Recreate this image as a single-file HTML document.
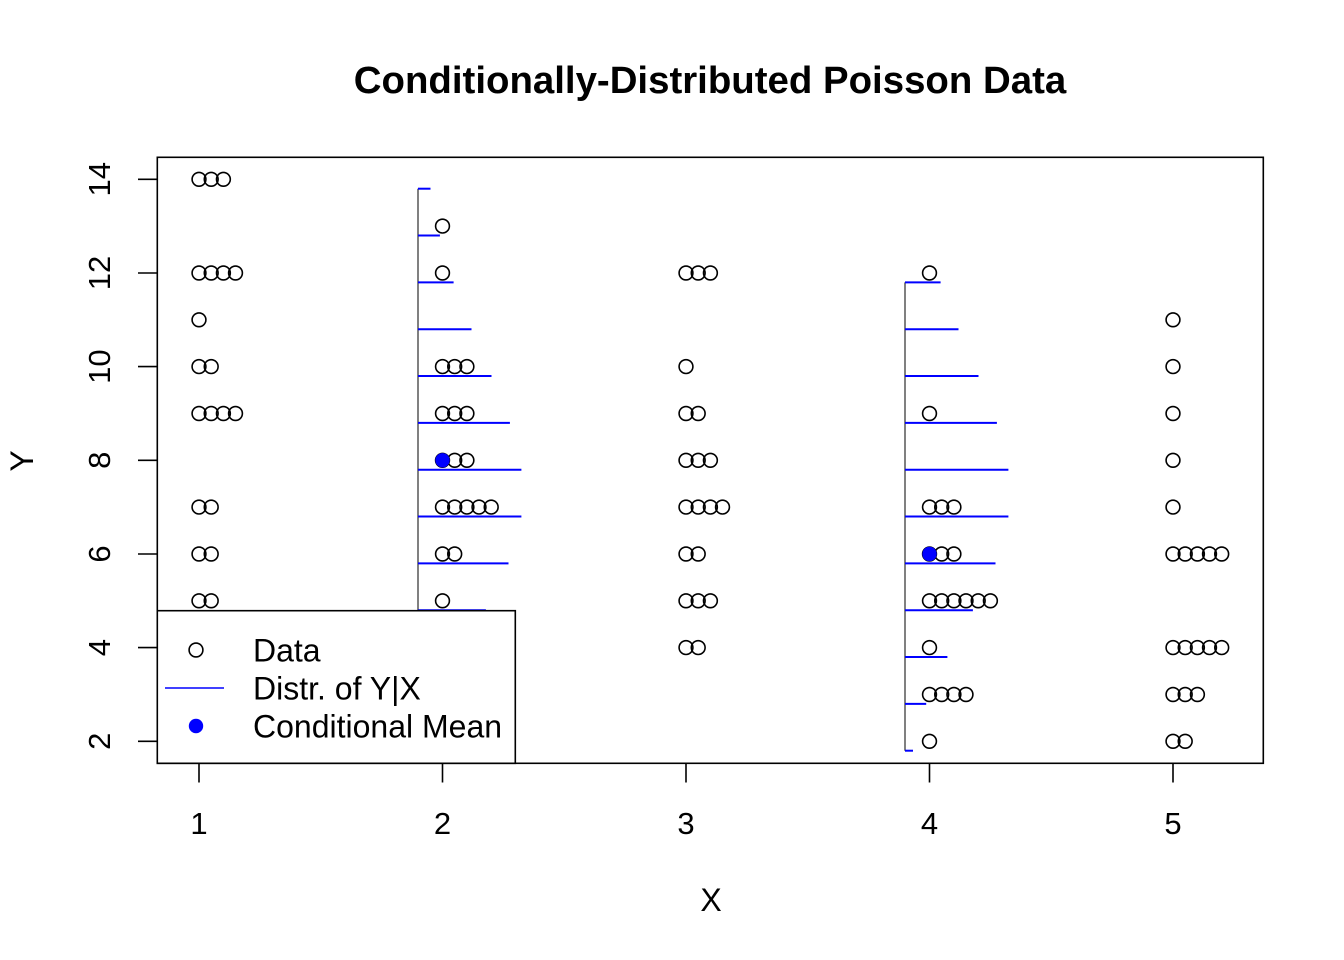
<!DOCTYPE html>
<html>
<head>
<meta charset="utf-8">
<style>
html,body{margin:0;padding:0;background:#fff;}
svg{display:block;}
text{font-family:"Liberation Sans",Arial,Helvetica,sans-serif;fill:#000;}
</style>
</head>
<body>
<svg width="1344" height="960" viewBox="0 0 1344 960" xmlns="http://www.w3.org/2000/svg">
<rect x="0" y="0" width="1344" height="960" fill="#fff"/>

<!-- Title -->
<text x="710" y="93" font-size="38.4" font-weight="bold" text-anchor="middle">Conditionally-Distributed Poisson Data</text>

<!-- Data points -->
<g fill="none" stroke="#000" stroke-width="1.6">
<!-- x=1 -->
<circle cx="199" cy="179.3" r="6.9"/><circle cx="211.2" cy="179.3" r="6.9"/><circle cx="223.4" cy="179.3" r="6.9"/>
<circle cx="199" cy="273" r="6.9"/><circle cx="211.2" cy="273" r="6.9"/><circle cx="223.4" cy="273" r="6.9"/><circle cx="235.5" cy="273" r="6.9"/>
<circle cx="199" cy="319.8" r="6.9"/>
<circle cx="199" cy="366.6" r="6.9"/><circle cx="211.2" cy="366.6" r="6.9"/>
<circle cx="199" cy="413.5" r="6.9"/><circle cx="211.2" cy="413.5" r="6.9"/><circle cx="223.4" cy="413.5" r="6.9"/><circle cx="235.5" cy="413.5" r="6.9"/>
<circle cx="199" cy="507.1" r="6.9"/><circle cx="211.2" cy="507.1" r="6.9"/>
<circle cx="199" cy="554" r="6.9"/><circle cx="211.2" cy="554" r="6.9"/>
<circle cx="199" cy="600.8" r="6.9"/><circle cx="211.2" cy="600.8" r="6.9"/>
<!-- x=2 -->
<circle cx="442.5" cy="226.1" r="6.9"/>
<circle cx="442.5" cy="273" r="6.9"/>
<circle cx="442.5" cy="366.6" r="6.9"/><circle cx="454.7" cy="366.6" r="6.9"/><circle cx="466.9" cy="366.6" r="6.9"/>
<circle cx="442.5" cy="413.5" r="6.9"/><circle cx="454.7" cy="413.5" r="6.9"/><circle cx="466.9" cy="413.5" r="6.9"/>
<circle cx="442.5" cy="460.3" r="6.9"/><circle cx="454.7" cy="460.3" r="6.9"/><circle cx="466.9" cy="460.3" r="6.9"/>
<circle cx="442.5" cy="507.1" r="6.9"/><circle cx="454.7" cy="507.1" r="6.9"/><circle cx="466.9" cy="507.1" r="6.9"/><circle cx="479" cy="507.1" r="6.9"/><circle cx="491.2" cy="507.1" r="6.9"/>
<circle cx="442.5" cy="554" r="6.9"/><circle cx="454.7" cy="554" r="6.9"/>
<circle cx="442.5" cy="600.8" r="6.9"/>
<!-- x=3 -->
<circle cx="686" cy="273" r="6.9"/><circle cx="698.2" cy="273" r="6.9"/><circle cx="710.4" cy="273" r="6.9"/>
<circle cx="686" cy="366.6" r="6.9"/>
<circle cx="686" cy="413.5" r="6.9"/><circle cx="698.2" cy="413.5" r="6.9"/>
<circle cx="686" cy="460.3" r="6.9"/><circle cx="698.2" cy="460.3" r="6.9"/><circle cx="710.4" cy="460.3" r="6.9"/>
<circle cx="686" cy="507.1" r="6.9"/><circle cx="698.2" cy="507.1" r="6.9"/><circle cx="710.4" cy="507.1" r="6.9"/><circle cx="722.5" cy="507.1" r="6.9"/>
<circle cx="686" cy="554" r="6.9"/><circle cx="698.2" cy="554" r="6.9"/>
<circle cx="686" cy="600.8" r="6.9"/><circle cx="698.2" cy="600.8" r="6.9"/><circle cx="710.4" cy="600.8" r="6.9"/>
<circle cx="686" cy="647.6" r="6.9"/><circle cx="698.2" cy="647.6" r="6.9"/>
<!-- x=4 -->
<circle cx="929.5" cy="273" r="6.9"/>
<circle cx="929.5" cy="413.5" r="6.9"/>
<circle cx="929.5" cy="507.1" r="6.9"/><circle cx="941.7" cy="507.1" r="6.9"/><circle cx="953.9" cy="507.1" r="6.9"/>
<circle cx="929.5" cy="554" r="6.9"/><circle cx="941.7" cy="554" r="6.9"/><circle cx="953.9" cy="554" r="6.9"/>
<circle cx="929.5" cy="600.8" r="6.9"/><circle cx="941.7" cy="600.8" r="6.9"/><circle cx="953.9" cy="600.8" r="6.9"/><circle cx="966" cy="600.8" r="6.9"/><circle cx="978.2" cy="600.8" r="6.9"/><circle cx="990.4" cy="600.8" r="6.9"/>
<circle cx="929.5" cy="647.6" r="6.9"/>
<circle cx="929.5" cy="694.5" r="6.9"/><circle cx="941.7" cy="694.5" r="6.9"/><circle cx="953.9" cy="694.5" r="6.9"/><circle cx="966" cy="694.5" r="6.9"/>
<circle cx="929.5" cy="741.3" r="6.9"/>
<!-- x=5 -->
<circle cx="1173" cy="319.8" r="6.9"/>
<circle cx="1173" cy="366.6" r="6.9"/>
<circle cx="1173" cy="413.5" r="6.9"/>
<circle cx="1173" cy="460.3" r="6.9"/>
<circle cx="1173" cy="507.1" r="6.9"/>
<circle cx="1173" cy="554" r="6.9"/><circle cx="1185.2" cy="554" r="6.9"/><circle cx="1197.4" cy="554" r="6.9"/><circle cx="1209.5" cy="554" r="6.9"/><circle cx="1221.7" cy="554" r="6.9"/>
<circle cx="1173" cy="647.6" r="6.9"/><circle cx="1185.2" cy="647.6" r="6.9"/><circle cx="1197.4" cy="647.6" r="6.9"/><circle cx="1209.5" cy="647.6" r="6.9"/><circle cx="1221.7" cy="647.6" r="6.9"/>
<circle cx="1173" cy="694.5" r="6.9"/><circle cx="1185.2" cy="694.5" r="6.9"/><circle cx="1197.4" cy="694.5" r="6.9"/>
<circle cx="1173" cy="741.3" r="6.9"/><circle cx="1185.2" cy="741.3" r="6.9"/>
</g>

<!-- Distribution verticals -->
<g stroke="#808080" stroke-width="2">
<line x1="418" y1="188.7" x2="418" y2="750.7"/>
<line x1="905" y1="282.4" x2="905" y2="750.7"/>
</g>

<!-- Distribution horizontals -->
<g stroke="#0000ff" stroke-width="2">
<line x1="418" y1="188.7" x2="430.5" y2="188.7"/>
<line x1="418" y1="235.5" x2="439.9" y2="235.5"/>
<line x1="418" y1="282.4" x2="453.6" y2="282.4"/>
<line x1="418" y1="329.2" x2="471.5" y2="329.2"/>
<line x1="418" y1="376" x2="491.5" y2="376"/>
<line x1="418" y1="422.9" x2="509.9" y2="422.9"/>
<line x1="418" y1="469.7" x2="521.4" y2="469.7"/>
<line x1="418" y1="516.5" x2="521.4" y2="516.5"/>
<line x1="418" y1="563.4" x2="508.5" y2="563.4"/>
<line x1="418" y1="610.2" x2="485.9" y2="610.2"/>
<line x1="418" y1="657" x2="460.4" y2="657"/>
<line x1="418" y1="703.9" x2="439.2" y2="703.9"/>
<line x1="418" y1="750.7" x2="426" y2="750.7"/>

<line x1="905" y1="282.4" x2="940.6" y2="282.4"/>
<line x1="905" y1="329.2" x2="958.5" y2="329.2"/>
<line x1="905" y1="376" x2="978.5" y2="376"/>
<line x1="905" y1="422.9" x2="996.9" y2="422.9"/>
<line x1="905" y1="469.7" x2="1008.4" y2="469.7"/>
<line x1="905" y1="516.5" x2="1008.4" y2="516.5"/>
<line x1="905" y1="563.4" x2="995.5" y2="563.4"/>
<line x1="905" y1="610.2" x2="972.9" y2="610.2"/>
<line x1="905" y1="657" x2="947.4" y2="657"/>
<line x1="905" y1="703.9" x2="926.2" y2="703.9"/>
<line x1="905" y1="750.7" x2="913" y2="750.7"/>
</g>

<!-- Conditional means -->
<circle cx="442.5" cy="460.3" r="7.2" fill="#0000ff"/>
<circle cx="929.5" cy="554" r="7.2" fill="#0000ff"/>

<!-- Plot box -->
<rect x="157.3" y="157.3" width="1106" height="606" fill="none" stroke="#000" stroke-width="1.6"/>

<!-- X axis ticks and labels -->
<g stroke="#000" stroke-width="1.6">
<line x1="199" y1="763.3" x2="199" y2="782.5"/>
<line x1="442.5" y1="763.3" x2="442.5" y2="782.5"/>
<line x1="686" y1="763.3" x2="686" y2="782.5"/>
<line x1="929.5" y1="763.3" x2="929.5" y2="782.5"/>
<line x1="1173" y1="763.3" x2="1173" y2="782.5"/>
</g>
<g font-size="31" text-anchor="middle">
<text x="199" y="834">1</text>
<text x="442.5" y="834">2</text>
<text x="686" y="834">3</text>
<text x="929.5" y="834">4</text>
<text x="1173" y="834">5</text>
</g>

<!-- Y axis ticks and labels -->
<g stroke="#000" stroke-width="1.6">
<line x1="138" y1="179.3" x2="157.3" y2="179.3"/>
<line x1="138" y1="273" x2="157.3" y2="273"/>
<line x1="138" y1="366.6" x2="157.3" y2="366.6"/>
<line x1="138" y1="460.3" x2="157.3" y2="460.3"/>
<line x1="138" y1="554" x2="157.3" y2="554"/>
<line x1="138" y1="647.6" x2="157.3" y2="647.6"/>
<line x1="138" y1="741.3" x2="157.3" y2="741.3"/>
</g>
<g font-size="31" text-anchor="middle">
<text transform="translate(110,179.3) rotate(-90)">14</text>
<text transform="translate(110,273) rotate(-90)">12</text>
<text transform="translate(110,366.6) rotate(-90)">10</text>
<text transform="translate(110,460.3) rotate(-90)">8</text>
<text transform="translate(110,554) rotate(-90)">6</text>
<text transform="translate(110,647.6) rotate(-90)">4</text>
<text transform="translate(110,741.3) rotate(-90)">2</text>
</g>

<!-- Axis titles -->
<text x="711" y="911" font-size="32" text-anchor="middle">X</text>
<text transform="translate(33,461) rotate(-90)" font-size="32" text-anchor="middle">Y</text>

<!-- Legend -->
<rect x="157.3" y="610.7" width="358" height="152.6" fill="#fff" stroke="#000" stroke-width="1.6"/>
<circle cx="196" cy="650" r="6.9" fill="none" stroke="#000" stroke-width="1.6"/>
<line x1="165" y1="688" x2="224" y2="688" stroke="#0000ff" stroke-width="1.6"/>
<circle cx="196" cy="726" r="7.2" fill="#0000ff"/>
<g font-size="32">
<text x="253" y="661.5">Data</text>
<text x="253" y="699.5">Distr. of Y|X</text>
<text x="253" y="737.5">Conditional Mean</text>
</g>
</svg>
</body>
</html>
